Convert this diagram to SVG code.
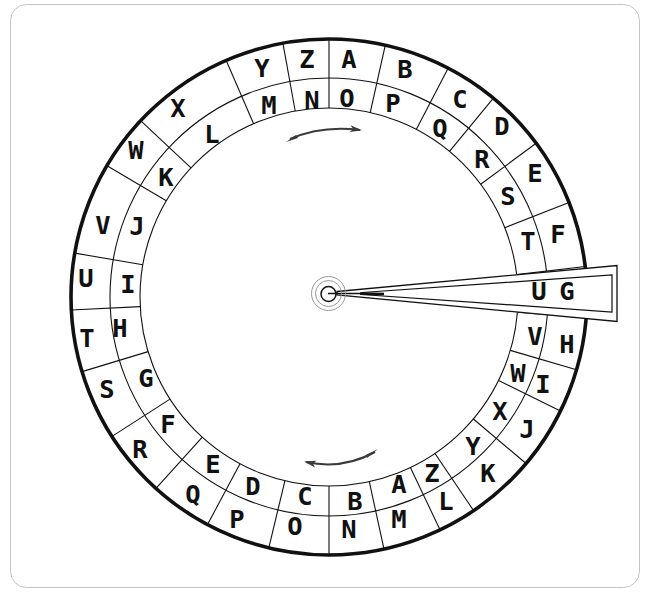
<svg xmlns="http://www.w3.org/2000/svg" width="650" height="592" viewBox="0 0 650 592">
<style>
.ring{fill:none;stroke:#111;stroke-width:1.1}
.div{stroke:#111;stroke-width:1.1}
.t{font-family:"DejaVu Sans Mono","Liberation Mono",monospace;font-weight:bold;font-size:25.5px;fill:#111;text-anchor:middle}
.arr{fill:none;stroke:#3a3a3a;stroke-width:2}
</style>
<defs>
<marker id="ah" viewBox="0 0 12 8" refX="10" refY="4" markerWidth="12" markerHeight="8" markerUnits="userSpaceOnUse" orient="auto">
<path d="M0,0.5 L12,4 L0,7.5 L3,4 Z" fill="#3a3a3a"/>
</marker>
</defs>
<rect id="frame" x="10.5" y="4.5" width="629" height="583" rx="16" fill="#fff" stroke="#c4c4c4" stroke-width="1"/>
<g id="wheel">
<circle class="ring" cx="329" cy="297" r="219"/>
<circle class="ring" cx="329" cy="297" r="189"/>
<circle cx="329" cy="297" r="258" fill="none" stroke="#111" stroke-width="3.6"/>
</g>
<g id="connectors">
<line class="div" x1="329" y1="108" x2="329" y2="40"/>
<line class="div" x1="370.2" y1="112.6" x2="385.3" y2="45.2"/>
<line class="div" x1="416.3" y1="129.4" x2="448.1" y2="68.2"/>
<line class="div" x1="449.5" y1="151.4" x2="493.4" y2="98.2"/>
<line class="div" x1="480.7" y1="184.3" x2="536.1" y2="143.2"/>
<line class="div" x1="504.8" y1="227.7" x2="569.0" y2="202.4"/>
<line class="div" x1="516.7" y1="274.6" x2="585.2" y2="266.5"/>
<line class="div" x1="517.4" y1="312.2" x2="586.2" y2="317.7"/>
<line class="div" x1="510.3" y1="350.4" x2="576.5" y2="369.8"/>
<line class="div" x1="498.6" y1="380.4" x2="560.5" y2="410.9"/>
<line class="div" x1="473.4" y1="419.0" x2="526.1" y2="463.5"/>
<line class="div" x1="435.0" y1="453.5" x2="473.6" y2="510.6"/>
<line class="div" x1="410.4" y1="467.6" x2="440.1" y2="529.9"/>
<line class="div" x1="369.3" y1="481.7" x2="384.0" y2="549.1"/>
<line class="div" x1="329" y1="486" x2="329" y2="554"/>
<line class="div" x1="284.9" y1="480.8" x2="268.8" y2="547.9"/>
<line class="div" x1="240.0" y1="463.7" x2="207.5" y2="524.6"/>
<line class="div" x1="202.3" y1="437.2" x2="156.0" y2="488.4"/>
<line class="div" x1="170.0" y1="399.1" x2="112.0" y2="436.4"/>
<line class="div" x1="148.1" y1="351.6" x2="82.1" y2="371.6"/>
<line class="div" x1="140.2" y1="306.6" x2="71.3" y2="310.0"/>
<line class="div" x1="142.8" y1="264.8" x2="74.8" y2="253.1"/>
<line class="div" x1="166.3" y1="200.8" x2="107.0" y2="165.7"/>
<line class="div" x1="191.0" y1="167.9" x2="140.6" y2="120.7"/>
<line class="div" x1="253.6" y1="123.7" x2="226.1" y2="60.3"/>
<line class="div" x1="295.2" y1="111.0" x2="282.9" y2="43.2"/>
</g>
<g id="outer-letters" transform="translate(0,1.5)">
<text class="t" x="349" y="66">A</text>
<text class="t" x="405" y="76">B</text>
<text class="t" x="460" y="106">C</text>
<text class="t" x="502" y="133">D</text>
<text class="t" x="535" y="180">E</text>
<text class="t" x="558" y="241">F</text>
<text class="t" x="567" y="351">H</text>
<text class="t" x="543" y="391">I</text>
<text class="t" x="527" y="436">J</text>
<text class="t" x="488" y="480">K</text>
<text class="t" x="446" y="508">L</text>
<text class="t" x="399" y="526">M</text>
<text class="t" x="349" y="536">N</text>
<text class="t" x="295" y="533">O</text>
<text class="t" x="237" y="526">P</text>
<text class="t" x="193" y="501">Q</text>
<text class="t" x="140" y="456">R</text>
<text class="t" x="107" y="396">S</text>
<text class="t" x="87" y="345">T</text>
<text class="t" x="86" y="285">U</text>
<text class="t" x="103" y="232">V</text>
<text class="t" x="136" y="157">W</text>
<text class="t" x="178" y="115">X</text>
<text class="t" x="262" y="75">Y</text>
<text class="t" x="307" y="66">Z</text>
</g>
<g id="inner-letters" transform="translate(0,1.5)">
<text class="t" x="347" y="105">O</text>
<text class="t" x="393" y="110">P</text>
<text class="t" x="440" y="135">Q</text>
<text class="t" x="482" y="166">R</text>
<text class="t" x="508" y="203">S</text>
<text class="t" x="528" y="248">T</text>
<text class="t" x="535" y="343">V</text>
<text class="t" x="518" y="380">W</text>
<text class="t" x="500" y="418">X</text>
<text class="t" x="473" y="453">Y</text>
<text class="t" x="432" y="480">Z</text>
<text class="t" x="399" y="491">A</text>
<text class="t" x="355" y="508">B</text>
<text class="t" x="305" y="503">C</text>
<text class="t" x="253" y="493">D</text>
<text class="t" x="213" y="471">E</text>
<text class="t" x="168" y="431">F</text>
<text class="t" x="146" y="385">G</text>
<text class="t" x="120" y="335">H</text>
<text class="t" x="128" y="291">I</text>
<text class="t" x="137" y="233">J</text>
<text class="t" x="166" y="184">K</text>
<text class="t" x="212" y="141">L</text>
<text class="t" x="269" y="112">M</text>
<text class="t" x="312" y="107">N</text>
</g>
<g id="arrows">
<path class="arr" d="M290,139 Q322,125 360,130" marker-end="url(#ah)"/>
<path d="M286,142 L296,135 L298,138 Z" fill="#3a3a3a"/>
<path class="arr" d="M375,452 Q342,470 306,462" marker-end="url(#ah)"/>
<path d="M378,449 L366,455 L367,458 Z" fill="#3a3a3a"/>
</g>
<g id="pointer">
<path d="M337,291.5 L617,265.5 L617,321.5 L337,295 Z" fill="#fff" stroke="#111" stroke-width="1.3"/>
<path d="M362,292.5 L612,275 L612,312 L362,294.5 Z" fill="none" stroke="#111" stroke-width="1.2"/>
<line x1="328" y1="293.5" x2="362" y2="293.5" stroke="#111" stroke-width="1.3"/>
<line x1="360" y1="293.6" x2="384" y2="294" stroke="#111" stroke-width="2.6"/>
<text class="t" x="539" y="299.5">U</text>
<text class="t" x="567" y="299.5">G</text>
</g>
<g id="pivot">
<circle cx="328.5" cy="293.5" r="17" fill="none" stroke="#999" stroke-width="1"/>
<circle cx="328.5" cy="293.5" r="13" fill="none" stroke="#999" stroke-width="1"/>
<circle cx="328.5" cy="294" r="7.5" fill="none" stroke="#111" stroke-width="1.5"/>
</g>
</svg>
